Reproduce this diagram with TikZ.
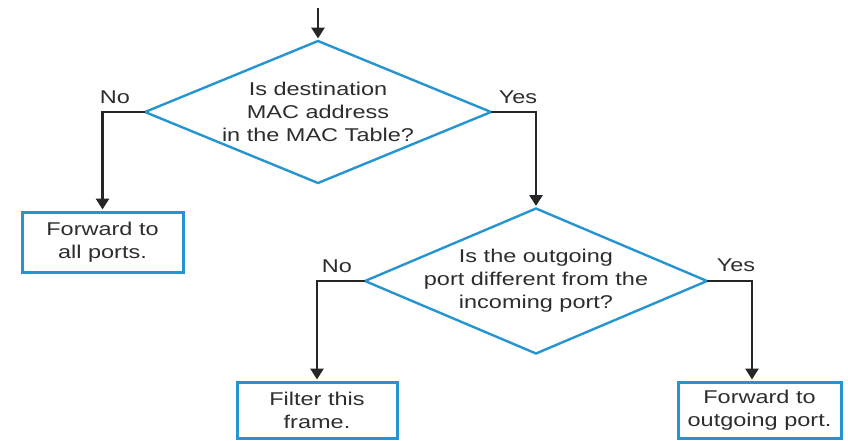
\documentclass[tikz,border=0pt]{standalone}
\usepackage{fontspec}
\setmainfont{Liberation Sans}[FakeStretch=1.27]
\usetikzlibrary{shapes.geometric,arrows.meta}
\definecolor{flowblue}{RGB}{38,148,208}
\definecolor{flowtext}{RGB}{45,45,45}
\begin{document}
\begin{tikzpicture}[x=1pt,y=-1pt,
  txt/.style={text=flowtext,font=\fontsize{18.5}{23}\selectfont,align=center},
  question/.style={diamond,draw=flowblue,line width=2.4pt,aspect=2.4,inner sep=-20pt,outer sep=0pt,txt},
  action/.style={rectangle,draw=flowblue,line width=3pt,inner sep=0pt,outer sep=0pt,txt},
  answer/.style={txt},
  flow/.style={draw=black!85,line width=2.8pt,-{Triangle[width=13pt,length=11pt]},shorten >=2.5pt}]
\useasboundingbox (0,0) rectangle (848,440);
% Decisions
\node[question,minimum width=346pt,minimum height=142pt] (inTable) at (318,112)
  {Is destination\\MAC address\\in the MAC Table?};
\node[question,minimum width=342pt,minimum height=145pt] (samePort) at (536,281)
  {Is the outgoing\\port different from the\\incoming port?};
% Actions
\node[action,minimum width=161pt,minimum height=60pt] (flood) at (102.5,242) {Forward to\\all ports.};
\node[action,minimum width=160pt,minimum height=56pt] (filter) at (317,410) {Filter this\\frame.};
\node[action,minimum width=163pt,minimum height=56pt] (forward) at (759.5,410) {Forward to\\outgoing port.};
% Branch labels
\node[answer] (no1) at ([shift={(-30,-15)}]inTable.west) {No};
\node[answer] (yes1) at ([shift={(27,-15)}]inTable.east) {Yes};
\node[answer] (no2) at ([shift={(-28,-15)}]samePort.west) {No};
\node[answer] (yes2) at ([shift={(29,-16)}]samePort.east) {Yes};
% Connectors
\coordinate (entry) at (318,8);
\draw[flow] (entry) -- (inTable.north);
\draw[flow] (inTable.west) -| (flood.north);
\draw[flow] (inTable.east) -| (samePort.north);
\draw[flow] (samePort.west) -| (filter.north);
\draw[flow] (samePort.east) -| ([xshift=-7.5pt]forward.north);
\end{tikzpicture}
\end{document}
